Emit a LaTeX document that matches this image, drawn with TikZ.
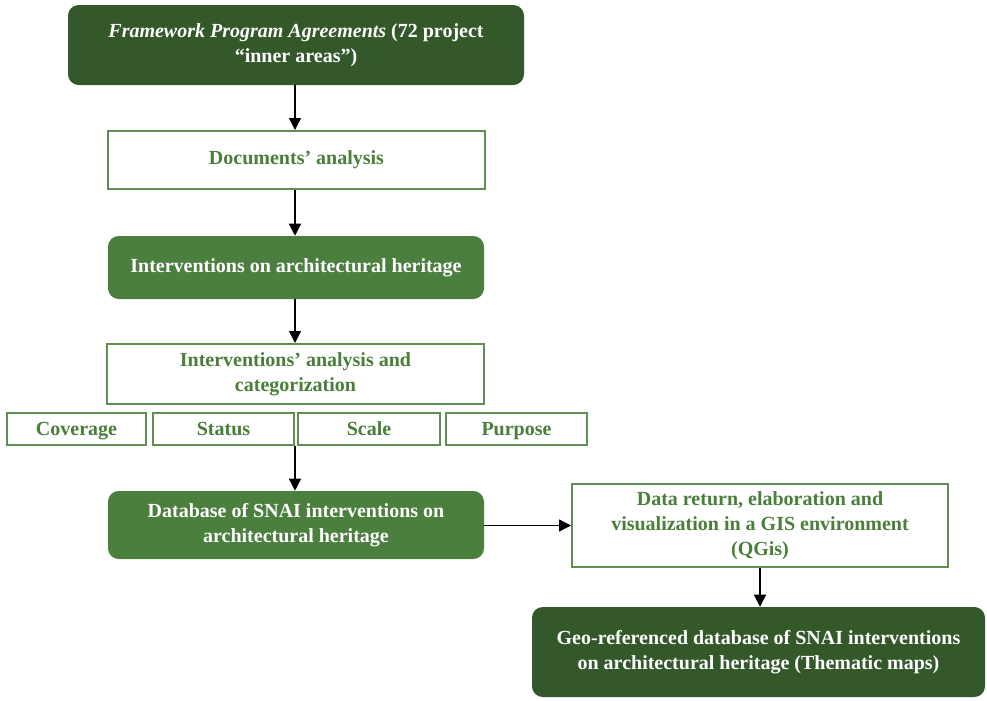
\documentclass[tikz,border=0pt]{standalone}
\usepackage{fontspec}
\setmainfont{Liberation Serif}
\usetikzlibrary{arrows.meta}
\definecolor{darkg}{HTML}{33592A}
\definecolor{midg}{HTML}{4B7F3D}
\definecolor{lineg}{HTML}{5E8E50}
\definecolor{textg}{HTML}{4A7E3A}
\tikzset{
  px/.style={x=0.75pt,y=-0.75pt},
  darkbox/.style={draw=none,fill=darkg,rounded corners=8pt,text=white,font=\fontsize{15}{18.75}\selectfont\bfseries,align=center,inner sep=0pt},
  midbox/.style={draw=none,fill=midg,rounded corners=8pt,text=white,font=\fontsize{15}{18.75}\selectfont\bfseries,align=center,inner sep=0pt},
  whitebox/.style={draw=lineg,line width=1.5pt,fill=white,text=textg,font=\fontsize{15}{18.75}\selectfont\bfseries,align=center,inner sep=0pt},
  catbox/.style={whitebox,minimum height=32*0.75pt,text height=12.5pt,text depth=2.7pt},
  arr/.style={-{Triangle[length=9pt,width=9pt]},line width=1pt,black}
}
\begin{document}
\begin{tikzpicture}[px]
\useasboundingbox (0,0) rectangle (987,700);
% boxes
\node[darkbox,minimum width=456*0.75pt,minimum height=80*0.75pt] (fpa) at (296,45)
  {\textit{Framework Program Agreements} (72 project\\``inner areas'')};
\node[whitebox,minimum width=377*0.75pt,minimum height=58*0.75pt] (doc) at (296.5,160)
  {Documents' analysis};
\node[midbox,minimum width=376*0.75pt,minimum height=63*0.75pt] (int) at (296,267.5)
  {Interventions on architectural heritage};
\node[whitebox,minimum width=377*0.75pt,minimum height=60*0.75pt] (cat) at (295.5,374)
  {Interventions' analysis and\\categorization};
\node[catbox,minimum width=139*0.75pt] (cov) at (76.5,429) {Coverage};
\node[catbox,minimum width=141*0.75pt] (sta) at (223.5,429) {Status};
\node[catbox,minimum width=142*0.75pt] (sca) at (369,429) {Scale};
\node[catbox,minimum width=141*0.75pt] (pur) at (516.5,429) {Purpose};
\node[midbox,minimum width=376*0.75pt,minimum height=68*0.75pt] (db) at (296,525)
  {Database of SNAI interventions on\\architectural heritage};
\node[whitebox,minimum width=376*0.75pt,minimum height=83*0.75pt] (gis) at (760,525.5)
  {Data return, elaboration and\\visualization in a GIS environment\\(QGis)};
\node[darkbox,minimum width=453*0.75pt,minimum height=90*0.75pt] (geo) at (758.5,652)
  {Geo-referenced database of SNAI interventions\\on architectural heritage (Thematic maps)};
% main column axis
\coordinate (ax) at (295,0);
% connectors
\draw[arr] (fpa.south -| ax) -- (doc.north -| ax);
\draw[arr] (doc.south -| ax) -- (int.north -| ax);
\draw[arr] (int.south -| ax) -- (cat.north -| ax);
\draw[arr] (sta.south -| ax) -- (db.north -| ax);
\draw[arr] (db.east |- gis.west) -- (gis.west);
\draw[arr] (gis.south) -- (gis.south |- geo.north);
\end{tikzpicture}
\end{document}
